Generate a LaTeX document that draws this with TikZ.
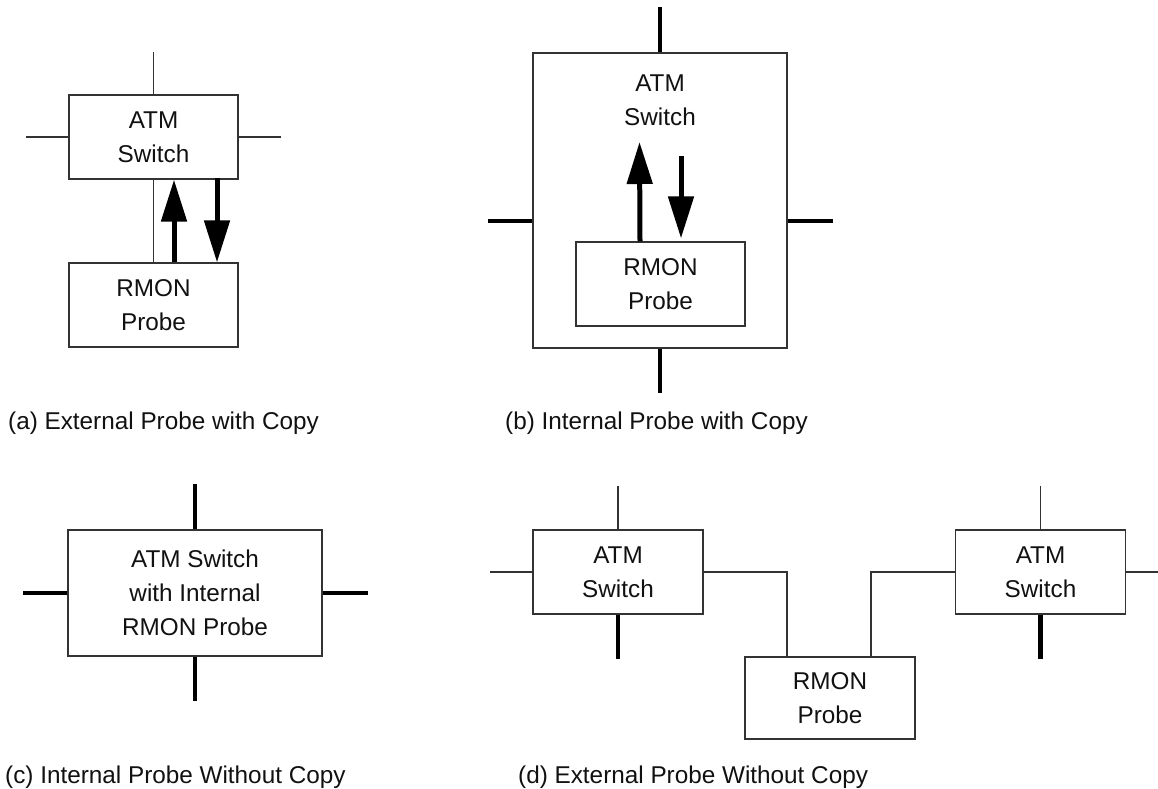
\documentclass[tikz,border=0pt]{standalone}
\usepackage{fontspec}
\setmainfont{Liberation Sans}
\usetikzlibrary{arrows.meta}
\definecolor{linegray}{HTML}{333333}
\definecolor{inkblack}{HTML}{111111}
\newcommand\lblfont{\fontsize{24.3}{34}\selectfont}
\begin{document}
\begin{tikzpicture}[x=1pt,y=-1pt,
  box/.style={draw=linegray, line width=1.3pt, inner sep=0pt, align=center,
              font=\lblfont, text=inkblack, minimum width=169pt, minimum height=84pt},
  bigbox/.style={box, minimum width=254pt},
  label/.style={align=center, font=\lblfont, text=inkblack, inner sep=0pt},
  thinline/.style={draw=linegray, line width=1.2pt},
  thickline/.style={draw=black, line width=4.6pt},
  bigarrow/.style={draw=black, line width=5pt, -{Triangle[width=25pt,length=42pt]}},
  caption/.style={anchor=base west, inner sep=0pt, font=\lblfont, text=inkblack}]

\useasboundingbox (0,0) rectangle (1158,788);

% (a) external probe with copy
\node[box] (atmA) at (153.5,137) {ATM\\Switch};
\node[box] (rmonA) at (153.5,305) {RMON\\Probe};
\draw[thinline] (atmA.north) -- ++(0,-42);
\draw[thinline] (atmA.west) -- ++(-42,0);
\draw[thinline] (atmA.east) -- ++(42,0);
\draw[thinline] (atmA.south) -- (rmonA.north);
\draw[bigarrow] ([xshift=20.5pt]rmonA.north) -- ([xshift=20.5pt]atmA.south);
\draw[bigarrow] ([xshift=63.5pt,yshift=2pt]atmA.south) -- ([xshift=63.5pt]rmonA.north);
\node[caption] (capA) at (8,429) {(a) External Probe with Copy};

% (b) internal probe with copy
\node[bigbox, minimum height=295pt] (outerB) at (660,200.5) {};
\node[label] (labB) at (660,100) {ATM\\Switch};
\node[box] (rmonB) at (660.5,284) {RMON\\Probe};
\draw[thickline] (outerB.north) -- ++(0,-45);
\draw[thickline] (outerB.south) -- ++(0,44);
\draw[thickline] ([yshift=-20.5pt]outerB.west) -- ++(-44,0);
\draw[thickline] ([yshift=-20.5pt]outerB.east) -- ++(45,0);
\coordinate (upB) at (639.5,142);
\coordinate (dnB) at (681,156);
\draw[bigarrow] ([xshift=-20.5pt]rmonB.north) -- (upB);
\draw[bigarrow] (dnB) -- ([xshift=20.5pt,yshift=3pt]rmonB.north);
\node[caption] (capB) at (505,429) {(b) Internal Probe with Copy};

% (c) internal probe without copy
\node[bigbox, minimum height=126pt] (swC) at (195,593) {ATM Switch\\with Internal\\RMON Probe};
\draw[thickline] (swC.north) -- ++(0,-45);
\draw[thickline] (swC.south) -- ++(0,44);
\draw[thickline] (swC.west) -- ++(-44,0);
\draw[thickline] (swC.east) -- ++(45,0);
\node[caption] (capC) at (5,783) {(c) Internal Probe Without Copy};

% (d) external probe without copy
\node[box, minimum width=170pt] (atmD1) at (618,572) {ATM\\Switch};
\node[box, minimum width=170pt, minimum height=82pt] (rmonD) at (830,698) {RMON\\Probe};
\node[box, minimum width=170pt] (atmD2) at (1040.5,572) {ATM\\Switch};
\draw[thinline] (atmD1.north) -- ++(0,-43);
\draw[thinline] (atmD1.west) -- ++(-42,0);
\draw[thickline] (atmD1.south) -- ++(0,44);
\draw[thinline] (atmD1.east) -| ([xshift=-43pt]rmonD.north);
\draw[thinline] ([xshift=41pt]rmonD.north) |- (atmD2.west);
\draw[thinline] (atmD2.north) -- ++(0,-43);
\draw[thinline] (atmD2.east) -- ++(33,0);
\draw[thickline] (atmD2.south) -- ++(0,44);
\node[caption] (capD) at (518,783) {(d) External Probe Without Copy};
\end{tikzpicture}
\end{document}
